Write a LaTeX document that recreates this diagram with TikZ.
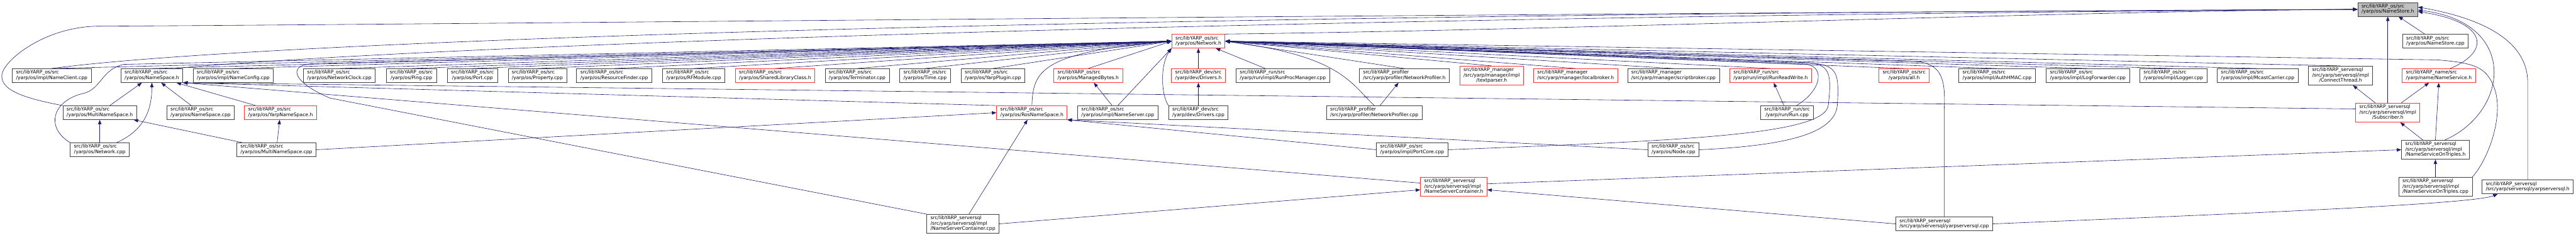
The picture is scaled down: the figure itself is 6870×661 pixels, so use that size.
\documentclass[tikz,border=0pt]{standalone}
\usepackage{fontspec}
\setmainfont{DejaVu Sans}
\usepackage{tikz}
\usetikzlibrary{arrows.meta,backgrounds}
\definecolor{edgeblue}{HTML}{191970}
\definecolor{boxgray}{HTML}{404040}
\definecolor{trunc}{HTML}{FF3333}
\definecolor{rootfill}{HTML}{BFBFBF}
\tikzset{
  incfile/.style ={rectangle, draw=boxgray, fill=white, line width=1.2pt,
                   inner xsep=10pt, inner ysep=4.4pt,
                   font=\fontsize{12.8}{14}\selectfont},
  cutfile/.style ={incfile, draw=trunc},
  rootfile/.style={incfile, fill=rootfill},
  % include edge: the tip sits on the included file
  inc/.style     ={draw=edgeblue, line width=1pt,
                   -{Triangle[length=12pt,width=9pt]}},
}
% label of two or three lines, the last one centred
\newcommand{\flab}[2]{\begin{tabular}{@{}l@{}}#1\\\multicolumn{1}{@{}c@{}}{#2}\end{tabular}}
\def\netleft{NameClientCpp, NameSpaceH, NameConfigCpp, NetworkClockCpp, PingCpp,
  PortCpp, PropertyCpp, ResourceFinderCpp, RFModuleCpp, SharedLibraryClassH,
  TerminatorCpp, TimeCpp, YarpPluginCpp, ManagedBytesH}
\def\netright{NetworkProfilerH, TextparserH, LocalbrokerH, ScriptbrokerCpp,
  RunReadWriteH, AllH, AuthHMACCpp, LogForwarderCpp, LoggerCpp, McastCarrierCpp,
  ConnectThreadH}
\def\plainedges{MultiNameSpaceH/NameSpaceH, NetworkCpp/MultiNameSpaceH,
  NameSpaceCpp/NameSpaceH, YarpNameSpaceH/NameSpaceH,
  MultiNameSpaceCpp/MultiNameSpaceH, MultiNameSpaceCpp/YarpNameSpaceH,
  NameServerContainerCpp/RosNameSpaceH, NameServerCpp/ManagedBytesH,
  DriversCpp/DriversH, DriversH/NetworkH, RunProcManagerCpp/NetworkH,
  NetworkProfilerCpp/NetworkProfilerH, RunCpp/RunReadWriteH,
  NameStoreCpp/NameStoreH, SubscriberH/NameStoreH,
  NameServiceOnTriplesH/SubscriberH, NameServiceOnTriplesCpp/NameServiceOnTriplesH,
  SubscriberH/ConnectThreadH, SubscriberH/NameServiceH}

\begin{document}
\begin{tikzpicture}[x=1pt,y=-1pt]
\useasboundingbox (0,0) rectangle (6870,661);
% rank 0 and 1
\node[rootfile] (NameStoreH) at (6368,25) {\flab{src/libYARP\_os/src}{/yarp/os/NameStore.h}};
\node[cutfile] (NetworkH) at (3196,110) {\flab{src/libYARP\_os/src}{/yarp/os/Network.h}};
\node[incfile] (NameStoreCpp) at (6495,110) {\flab{src/libYARP\_os/src}{/yarp/os/NameStore.cpp}};
% rank 2
\node[incfile] (NameClientCpp) at (138,202) {\flab{src/libYARP\_os/src}{/yarp/os/impl/NameClient.cpp}};
\node[incfile] (NameSpaceH) at (405,202) {\flab{src/libYARP\_os/src}{/yarp/os/NameSpace.h}};
\node[incfile] (NameConfigCpp) at (622,202) {\flab{src/libYARP\_os/src}{/yarp/os/impl/NameConfig.cpp}};
\node[incfile] (NetworkClockCpp) at (905,202) {\flab{src/libYARP\_os/src}{/yarp/os/NetworkClock.cpp}};
\node[incfile] (PingCpp) at (1097,202) {\flab{src/libYARP\_os/src}{/yarp/os/Ping.cpp}};
\node[incfile] (PortCpp) at (1260,202) {\flab{src/libYARP\_os/src}{/yarp/os/Port.cpp}};
\node[incfile] (PropertyCpp) at (1433,202) {\flab{src/libYARP\_os/src}{/yarp/os/Property.cpp}};
\node[incfile] (ResourceFinderCpp) at (1638,202) {\flab{src/libYARP\_os/src}{/yarp/os/ResourceFinder.cpp}};
\node[incfile] (RFModuleCpp) at (1850,202) {\flab{src/libYARP\_os/src}{/yarp/os/RFModule.cpp}};
\node[cutfile] (SharedLibraryClassH) at (2067,202) {\flab{src/libYARP\_os/src}{/yarp/os/SharedLibraryClass.h}};
\node[incfile] (TerminatorCpp) at (2286,202) {\flab{src/libYARP\_os/src}{/yarp/os/Terminator.cpp}};
\node[incfile] (TimeCpp) at (2467,202) {\flab{src/libYARP\_os/src}{/yarp/os/Time.cpp}};
\node[incfile] (YarpPluginCpp) at (2648,202) {\flab{src/libYARP\_os/src}{/yarp/os/YarpPlugin.cpp}};
\node[cutfile] (ManagedBytesH) at (2902,202) {\flab{src/libYARP\_os/src}{/yarp/os/ManagedBytes.h}};
\node[cutfile] (DriversH) at (3196,202) {\flab{src/libYARP\_dev/src}{/yarp/dev/Drivers.h}};
\node[incfile] (RunProcManagerCpp) at (3421,202) {\flab{src/libYARP\_run/src}{/yarp/run/impl/RunProcManager.cpp}};
\node[incfile] (NetworkProfilerH) at (3745,202) {\flab{src/libYARP\_profiler}{/src/yarp/profiler/NetworkProfiler.h}};
\node[cutfile] (TextparserH) at (3978,202) {\flab{src/libYARP\_manager\\/src/yarp/manager/impl}{/textparser.h}};
\node[cutfile] (LocalbrokerH) at (4202,202) {\flab{src/libYARP\_manager}{/src/yarp/manager/localbroker.h}};
\node[incfile] (ScriptbrokerCpp) at (4463,202) {\flab{src/libYARP\_manager}{/src/yarp/manager/scriptbroker.cpp}};
\node[cutfile] (RunReadWriteH) at (4722,202) {\flab{src/libYARP\_run/src}{/yarp/run/impl/RunReadWrite.h}};
\node[cutfile] (AllH) at (5078,202) {\flab{src/libYARP\_os/src}{/yarp/os/all.h}};
\node[incfile] (AuthHMACCpp) at (5326,202) {\flab{src/libYARP\_os/src}{/yarp/os/impl/AuthHMAC.cpp}};
\node[incfile] (LogForwarderCpp) at (5568,202) {\flab{src/libYARP\_os/src}{/yarp/os/impl/LogForwarder.cpp}};
\node[incfile] (LoggerCpp) at (5796,202) {\flab{src/libYARP\_os/src}{/yarp/os/impl/Logger.cpp}};
\node[incfile] (McastCarrierCpp) at (6021,202) {\flab{src/libYARP\_os/src}{/yarp/os/impl/McastCarrier.cpp}};
\node[incfile] (ConnectThreadH) at (6242,202) {\flab{src/libYARP\_serversql\\/src/yarp/serversql/impl}{/ConnectThread.h}};
\node[cutfile] (NameServiceH) at (6504,202) {\flab{src/libYARP\_name/src}{/yarp/name/NameService.h}};
% rank 3
\node[incfile] (MultiNameSpaceH) at (266,301) {\flab{src/libYARP\_os/src}{/yarp/os/MultiNameSpace.h}};
\node[incfile] (NameSpaceCpp) at (535,301) {\flab{src/libYARP\_os/src}{/yarp/os/NameSpace.cpp}};
\node[cutfile] (YarpNameSpaceH) at (748,301) {\flab{src/libYARP\_os/src}{/yarp/os/YarpNameSpace.h}};
\node[cutfile] (RosNameSpaceH) at (2752,301) {\flab{src/libYARP\_os/src}{/yarp/os/RosNameSpace.h}};
\node[incfile] (NameServerCpp) at (2981,301) {\flab{src/libYARP\_os/src}{/yarp/os/impl/NameServer.cpp}};
\node[incfile] (DriversCpp) at (3196,301) {\flab{src/libYARP\_dev/src}{/yarp/dev/Drivers.cpp}};
\node[incfile] (NetworkProfilerCpp) at (3665,301) {\flab{src/libYARP\_profiler}{/src/yarp/profiler/NetworkProfiler.cpp}};
\node[incfile] (RunCpp) at (4766,301) {\flab{src/libYARP\_run/src}{/yarp/run/Run.cpp}};
\node[cutfile] (SubscriberH) at (6368,301) {\flab{src/libYARP\_serversql\\/src/yarp/serversql/impl}{/Subscriber.h}};
% rank 4
\node[incfile] (NetworkCpp) at (266,400) {\flab{src/libYARP\_os/src}{/yarp/os/Network.cpp}};
\node[incfile] (MultiNameSpaceCpp) at (737,400) {\flab{src/libYARP\_os/src}{/yarp/os/MultiNameSpace.cpp}};
\node[incfile] (PortCoreCpp) at (3766,400) {\flab{src/libYARP\_os/src}{/yarp/os/impl/PortCore.cpp}};
\node[incfile] (NodeCpp) at (4463,400) {\flab{src/libYARP\_os/src}{/yarp/os/Node.cpp}};
\node[incfile] (NameServiceOnTriplesH) at (6495,400) {\flab{src/libYARP\_serversql\\/src/yarp/serversql/impl}{/NameServiceOnTriples.h}};
% rank 5 and 6
\node[cutfile] (NameServerContainerH) at (3877,499) {\flab{src/libYARP\_serversql\\/src/yarp/serversql/impl}{/NameServerContainer.h}};
\node[incfile] (NameServiceOnTriplesCpp) at (6495,499) {\flab{src/libYARP\_serversql\\/src/yarp/serversql/impl}{/NameServiceOnTriples.cpp}};
\node[incfile] (YarpserversqlH) at (6741,499) {\flab{src/libYARP\_serversql}{/src/yarp/serversql/yarpserversql.h}};
\node[incfile] (NameServerContainerCpp) at (2568,598) {\flab{src/libYARP\_serversql\\/src/yarp/serversql/impl}{/NameServerContainer.cpp}};
\node[incfile] (YarpserversqlCpp) at (5185,598) {\flab{src/libYARP\_serversql}{/src/yarp/serversql/yarpserversql.cpp}};

\begin{scope}[on background layer]
  \foreach \a in \netleft  {\draw[inc] (\a.north) -- (NetworkH.west);}
  \foreach \a in \netright {\draw[inc] (\a.north) -- (NetworkH.east);}
  \foreach \a/\b in \plainedges {\draw[inc] (\a) -- (\b);}
  % into NameStore.h
  \draw[inc] (MultiNameSpaceH.north west) .. controls (80,265) and (0,245) .. (5,200)
     .. controls (10,160) and (120,72) .. (260,70)
     .. controls (1200,65) and (3500,40) .. (NameStoreH.west);
  \draw[inc] (NameClientCpp.north) .. controls (600,120) and (2500,40) .. (NameStoreH.west);
  \draw[inc] ([xshift=60pt]NameSpaceH.north) .. controls (900,140) and (2800,50) .. (NameStoreH.west);
  \draw[inc] (NetworkH.north east) .. controls (4200,80) and (5500,30) .. (NameStoreH.west);
  \draw[inc] ([xshift=30pt]NameServiceH.north) .. controls (6640,140) and (6640,60) .. ([yshift=-6pt]NameStoreH.east);
  \draw[inc] ([xshift=25pt]NameServiceOnTriplesH.north) .. controls (6690,300) and (6720,60) .. ([yshift=-2pt]NameStoreH.east);
  \draw[inc] (YarpserversqlH.north) -- (6741,220) .. controls (6741,100) and (6600,45) .. ([yshift=6pt]NameStoreH.east);
  % into Network.h, routed round other boxes
  \draw[inc] (NetworkCpp.north west) .. controls (120,340) and (140,270) .. (220,250)
     .. controls (270,240) and (270,185) .. (330,172) -- (NetworkH.west);
  \draw[inc] (NameServerContainerCpp.north west) -- (880,262)
     .. controls (770,215) and (770,170) .. (840,170) -- (NetworkH.west);
  \draw[inc] (RosNameSpaceH.north) .. controls (2755,190) and (2775,140) .. (NetworkH.west);
  \draw[inc] (NameServerCpp.north) -- (NetworkH.south west);
  \draw[inc] (DriversCpp.north west) .. controls (3095,250) and (3095,170) .. (NetworkH.south west);
  \draw[inc] (NetworkProfilerCpp.north) .. controls (3600,220) and (3575,150) .. (NetworkH.east);
  \draw[inc] ([xshift=25pt]RunCpp.north) .. controls (4860,240) and (4865,180) .. (4820,172) -- (NetworkH.east);
  \draw[inc] (PortCoreCpp.east) .. controls (4500,375) and (4870,360) .. (4876,280)
     .. controls (4885,200) and (4880,175) .. (4830,168) -- (NetworkH.east);
  \draw[inc] (NodeCpp.east) .. controls (4750,390) and (4895,360) .. (4900,280)
     .. controls (4905,200) and (4900,178) .. (4845,170) -- (NetworkH.east);
  \draw[inc] (YarpserversqlCpp.north) -- (5185,290)
     .. controls (5190,200) and (5170,175) .. (5120,165) -- (NetworkH.east);
  \draw[inc] (NameServiceOnTriplesCpp.north east) .. controls (6640,420) and (6680,300) .. (6650,230)
     .. controls (6630,180) and (6600,168) .. (6500,160) -- (NetworkH.east);
  % the name space family
  \draw[inc] ([xshift=45pt]NetworkCpp.north) .. controls (380,350) and (405,300) .. (NameSpaceH.south);
  \draw[inc] (RosNameSpaceH.north west) -- (NameSpaceH.south east);
  \draw[inc] ([yshift=10pt]NameServerContainerH.west) -- (NameSpaceH.south east);
  \draw[inc] ([yshift=10pt]SubscriberH.west) -- (NameSpaceH.south east);
  \draw[inc] (MultiNameSpaceCpp.east) -- (RosNameSpaceH.west);
  \draw[inc] (PortCoreCpp.west) -- (RosNameSpaceH.south east);
  \draw[inc] (NodeCpp.west) -- (RosNameSpaceH.south east);
  % serversql
  \draw[inc] (NameServerContainerCpp.east) -- ([yshift=-8pt]NameServerContainerH.west);
  \draw[inc] (YarpserversqlCpp.west) -- ([yshift=-8pt]NameServerContainerH.east);
  \draw[inc] ([yshift=8pt]NameServerContainerH.east) -- (NameServiceOnTriplesH.west);
  \draw[inc] (YarpserversqlCpp.east) .. controls (6000,570) and (6600,545) .. ([xshift=-80pt]YarpserversqlH.south);
  \draw[inc] (NameServiceOnTriplesH.north) -- (NameServiceH.south);
\end{scope}
\end{tikzpicture}
\end{document}
